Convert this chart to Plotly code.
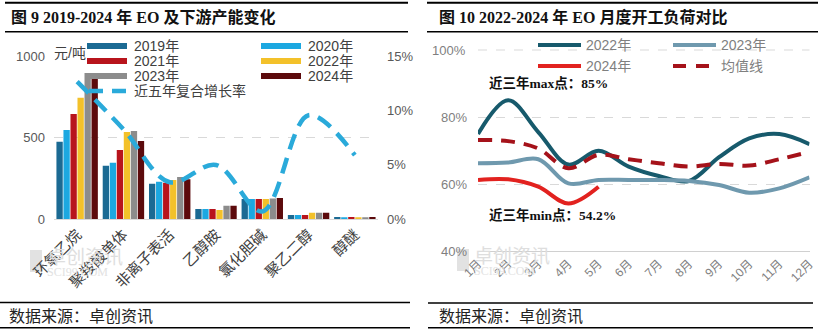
import plotly.graph_objects as go

W, H = 818, 332

# ---- Left panel: EO and downstream capacity, 2019-2024 ----
products = ["环氧乙烷", "聚羧酸单体", "非离子表活", "乙醇胺", "氯化胆碱", "聚乙二醇", "醇醚"]
years = ["2019年", "2020年", "2021年", "2022年", "2023年", "2024年"]
cap_2019 = [476, 328, 218, 62, 123, 25, 12]
cap_2020 = [548, 347, 230, 62, 123, 25, 11]
cap_2021 = [647, 425, 224, 62, 123, 25, 12]
cap_2022 = [747, 536, 240, 55, 123, 39, 11]
cap_2023 = [900, 542, 259, 82, 126, 39, 11]
cap_2024 = [870, 481, 245, 82, 130, 39, 12]
cagr_5y = [12.7, 8.3, 3.4, 5.0, 0.7, 9.6, 5.9]
cagr_name = "近五年复合增长率"
cap_ticks = [0, 500, 1000]
cagr_ticks = [0, 5, 10, 15]
cagr_ticktext = ["0%", "5%", "10%", "15%"]

# ---- Right panel: EO monthly operating rate (%) ----
months = ["1月", "2月", "3月", "4月", "5月", "6月", "7月", "8月", "9月", "10月", "11月", "12月"]
load_2022 = [74.9, 85.0, 75.5, 65.8, 69.9, 65.2, 62.4, 60.9, 68.0, 73.6, 74.9, 71.9]
load_2023 = [66.2, 66.4, 67.4, 60.2, 61.2, 61.2, 61.2, 60.9, 59.7, 57.4, 58.7, 62.0]
load_2024 = [61.2, 61.4, 59.2, 54.2, 59.2]
load_avg = [73.1, 72.8, 70.6, 64.7, 68.7, 67.4, 66.2, 65.2, 66.0, 65.5, 67.4, 69.6]
load_names = ["2022年", "2023年", "2024年", "均值线"]
load_ticks = [40, 60, 80]
load_ticktext = ["40%", "60%", "80%"]
load_top = 100
load_top_text = "100%"

bar_colors = ["#1B6A93", "#1CA8E1", "#B8141C", "#F3C12A", "#8C8C8C", "#5C0A0C"]
cagr_color = "#2AAADA"
load_colors = ["#175A6C", "#6F99AE", "#E2221F", "#A5121A"]

SANS = "Liberation Sans, Noto Sans CJK SC, sans-serif"
SERIF = "Liberation Serif, Noto Sans CJK SC, serif"


def px(x):
    return x / W


def py(y):
    return 1 - y / H


fig = go.Figure()

caps = [cap_2019, cap_2020, cap_2021, cap_2022, cap_2023, cap_2024]
for name, vals, col in zip(years, caps, bar_colors):
    fig.add_trace(go.Bar(x=products, y=vals, name=name, marker_color=col,
                         marker_line_width=0, xaxis="x", yaxis="y"))

fig.add_trace(go.Scatter(x=products, y=cagr_5y, name=cagr_name, mode="lines",
                         line=dict(color=cagr_color, width=4.5, shape="spline",
                                   smoothing=1.0, dash="16px,9px"),
                         xaxis="x", yaxis="y2"))

for name, vals, col in zip(load_names, [load_2022, load_2023, load_2024, load_avg], load_colors):
    dash = "14px,9px" if name == "均值线" else "solid"
    fig.add_trace(go.Scatter(x=months[:len(vals)], y=vals, name=name, mode="lines",
                             line=dict(color=col, width=4, shape="spline",
                                       smoothing=1.0, dash=dash),
                             xaxis="x2", yaxis="y3"))

tick_font = dict(family=SANS, size=13, color="#595959")
load_tick_font = dict(family=SANS, size=13, color="#7F7F7F")

# Right panel: 40% sits at y=251px, 100% at y=50px; the range runs a little
# past 100 to leave headroom for the top grid line.
r_top = 103.0
r_top_px = 251 - (r_top - 40) * (251 - 50) / 60

fig.update_layout(
    width=W, height=H,
    margin=dict(l=0, r=0, t=0, b=0, autoexpand=False),
    paper_bgcolor="white", plot_bgcolor="white",
    showlegend=False,
    barmode="group", bargap=0.09, bargroupgap=0.1,
    font=dict(family=SANS, color="#404040"),
    xaxis=dict(domain=[px(54), px(378)], anchor="y", type="category",
               tickangle=-45, tickfont=dict(family=SANS, size=15, color="#404040"),
               showline=True, linecolor="#d9d9d9", linewidth=1, ticks="",
               showgrid=False, zeroline=False, automargin=False),
    yaxis=dict(domain=[py(219), py(56.7)], range=[0, 1000.5], tickvals=cap_ticks,
               tickfont=tick_font, showgrid=True, gridcolor="#d9d9d9", griddash="dash",
               gridwidth=1, zeroline=False, showline=False, ticks="",
               ticklabelstandoff=8, automargin=False),
    yaxis2=dict(overlaying="y", side="right", anchor="x", range=[0, 15.0075],
                tickvals=cagr_ticks, ticktext=cagr_ticktext, tickfont=tick_font,
                showgrid=False, zeroline=False, showline=False, ticks="",
                ticklabelstandoff=8, automargin=False),
    xaxis2=dict(domain=[px(478), px(809.5)], anchor="y3", type="category",
                categoryarray=months, categoryorder="array",
                tickangle=-45, tickfont=dict(family=SANS, size=12, color="#7F7F7F"),
                showline=True, linecolor="#d0d0d0", linewidth=1, ticks="",
                showgrid=False, zeroline=False, automargin=False),
    yaxis3=dict(domain=[py(251), py(r_top_px)], anchor="x2", range=[40, r_top],
                tickmode="array", tickvals=load_ticks, ticktext=load_ticktext,
                tickfont=load_tick_font,
                showgrid=True, gridcolor="#d9d9d9", griddash="dash", gridwidth=1,
                zeroline=False, showline=False, ticks="", ticklabelstandoff=10,
                automargin=False),
)

shapes = []
annotations = []


def hline(x0, x1, y, width, color="#000000"):
    shapes.append(dict(type="line", xref="paper", yref="paper",
                       x0=px(x0), x1=px(x1), y0=py(y), y1=py(y),
                       line=dict(color=color, width=width)))


def text(x, y, s, size, color="#404040", family=SANS, xanchor="left", bold=False):
    if bold:
        s = f"<b>{s}</b>"
    annotations.append(dict(xref="paper", yref="paper", x=px(x), y=py(y), text=s,
                            showarrow=False, xanchor=xanchor, yanchor="middle",
                            font=dict(family=family, size=size, color=color)))


# Top grid line and label of the operating-rate axis
shapes.append(dict(type="line", xref="x2 domain", yref="y3", x0=0, x1=1,
                   y0=load_top, y1=load_top, layer="below",
                   line=dict(color="#d9d9d9", width=1, dash="dash")))
annotations.append(dict(xref="paper", yref="y3", x=px(468), y=load_top,
                        text=load_top_text, showarrow=False, xanchor="right",
                        yanchor="middle", font=load_tick_font))

# Frame rules around titles and source notes
hline(5, 408, 2.7, 2)
hline(5, 408, 31.7, 1.5)
hline(0, 410, 302.5, 1.5)
hline(0, 410, 327.8, 1.5)
hline(427, 818, 2.7, 2)
hline(427, 818, 31.7, 1.5)
hline(428, 813, 303, 1.5)
hline(428, 813, 327.8, 1.5)

text(9, 17, "图 9 2019-2024 年 EO 及下游产能变化", 16, "#111111", SERIF, bold=True)
text(437, 17, "图 10 2022-2024 年 EO 月度开工负荷对比", 16, "#111111", SERIF, bold=True)
text(7, 316, "数据来源：卓创资讯", 16, "#222222", SERIF)
text(437, 316, "数据来源：卓创资讯", 16, "#222222", SERIF)

# Faint watermarks
for wx, wy in [(30, 258), (457, 257)]:
    shapes.append(dict(type="rect", xref="paper", yref="paper",
                       x0=px(wx), x1=px(wx + 12), y0=py(wy + 14), y1=py(wy - 8),
                       fillcolor="#e2e2e2", line=dict(width=0), layer="below"))
    text(wx + 15, wy - 1, "卓创资讯", 19, "#dedede")
    text(wx + 15, wy + 14, "SCI99.COM", 12, "#e2e2e2", SERIF)

# Unit label
text(52, 53, "元/吨", 14, "#404040")

# Left legend (two columns)
left_rows = [46, 61, 76]
for i, (name, col) in enumerate(zip(years, bar_colors)):
    row = left_rows[i // 2]
    sx = 87 if i % 2 == 0 else 261
    shapes.append(dict(type="rect", xref="paper", yref="paper",
                       x0=px(sx), x1=px(sx + 40), y0=py(row + 3), y1=py(row - 3),
                       fillcolor=col, line=dict(width=0)))
    text(sx + 45, row, name, 14, "#404040")
shapes.append(dict(type="line", xref="paper", yref="paper",
                   x0=px(89), x1=px(127), y0=py(91), y1=py(91),
                   line=dict(color=cagr_color, width=4.5, dash="14px,9px")))
text(132, 91, cagr_name, 14, "#404040")

# Right legend (two columns)
right_pos = [(538, 45), (673, 45), (538, 66), (673, 66)]
for (sx, row), name, col in zip(right_pos, load_names, load_colors):
    dash = "13px,10px" if name == "均值线" else "solid"
    shapes.append(dict(type="line", xref="paper", yref="paper",
                       x0=px(sx), x1=px(sx + 43), y0=py(row), y1=py(row),
                       line=dict(color=col, width=4, dash=dash)))
    text(sx + 46, row, name, 14, "#7F7F7F")

# Extreme value notes
text(487, 83, "近三年max点：85%", 13.5, "#111111", SERIF, bold=True)
text(487, 215, "近三年min点：54.2%", 13.5, "#111111", SERIF, bold=True)

fig.update_layout(shapes=shapes, annotations=annotations)

fig.write_html("out.html")
